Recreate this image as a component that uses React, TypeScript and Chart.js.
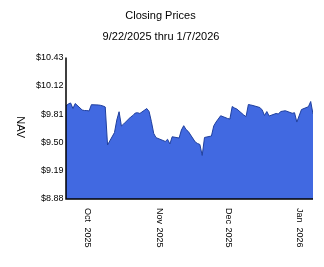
import React, { useEffect, useRef } from "react";
import { Chart, registerables } from "chart.js";

Chart.register(...registerables);

const TITLE = "Closing Prices";
const SUBTITLE = "9/22/2025 thru 1/7/2026";
const Y_TITLE = "NAV";

const START_DATE = "2025-09-22";
const END_DATE = "2026-01-07";

const dates: string[] = [
  "2025-09-22", "2025-09-23", "2025-09-24", "2025-09-25", "2025-09-26", "2025-09-29", "2025-09-30",
  "2025-10-01", "2025-10-02", "2025-10-03", "2025-10-06", "2025-10-07", "2025-10-08", "2025-10-09", "2025-10-10",
  "2025-10-13", "2025-10-14", "2025-10-15", "2025-10-16", "2025-10-17", "2025-10-20", "2025-10-21", "2025-10-22",
  "2025-10-23", "2025-10-24", "2025-10-27", "2025-10-28", "2025-10-29", "2025-10-30", "2025-10-31",
  "2025-11-03", "2025-11-04", "2025-11-05", "2025-11-06", "2025-11-07", "2025-11-10", "2025-11-11", "2025-11-12",
  "2025-11-13", "2025-11-14", "2025-11-17", "2025-11-18", "2025-11-19", "2025-11-20", "2025-11-21", "2025-11-24",
  "2025-11-25", "2025-11-26", "2025-11-28",
  "2025-12-01", "2025-12-02", "2025-12-03", "2025-12-04", "2025-12-05", "2025-12-08", "2025-12-09", "2025-12-10",
  "2025-12-11", "2025-12-12", "2025-12-15", "2025-12-16", "2025-12-17", "2025-12-18", "2025-12-19", "2025-12-22",
  "2025-12-23", "2025-12-24", "2025-12-26", "2025-12-29", "2025-12-30", "2025-12-31",
  "2026-01-02", "2026-01-05", "2026-01-06", "2026-01-07",
];

const nav: number[] = [
  9.899, 9.921, 9.932, 9.871, 9.926, 9.855, 9.849,
  9.849, 9.844, 9.913, 9.910, 9.906, 9.899, 9.888, 9.472,
  9.608, 9.745, 9.836, 9.680, 9.702, 9.778, 9.795, 9.822,
  9.825, 9.817, 9.871, 9.838, 9.727, 9.598, 9.552,
  9.521, 9.510, 9.534, 9.483, 9.562, 9.548, 9.636, 9.683,
  9.641, 9.619, 9.504, 9.488, 9.477, 9.357, 9.554, 9.570,
  9.680, 9.723, 9.792,
  9.762, 9.756, 9.893, 9.877, 9.866, 9.800, 9.782, 9.915,
  9.910, 9.904, 9.882, 9.855, 9.795, 9.838, 9.789, 9.817,
  9.811, 9.838, 9.847, 9.819, 9.825, 9.723,
  9.860, 9.891, 9.948, 9.811,
];

const yTicks: number[] = [8.88, 9.19, 9.5, 9.81, 10.12, 10.43];
const xTickDates: string[] = ["2025-10-01", "2025-11-01", "2025-12-01", "2026-01-01"];
const xTickLabels: string[] = ["Oct 2025", "Nov 2025", "Dec 2025", "Jan 2026"];

const dayOf = (s: string) => {
  const [y, m, d] = s.split("-").map(Number);
  const [y0, m0, d0] = START_DATE.split("-").map(Number);
  return Math.round((Date.UTC(y, m - 1, d) - Date.UTC(y0, m0 - 1, d0)) / 86400000);
};

const FONT = '"Liberation Sans", Arial, sans-serif';

const decorPlugin = {
  id: "decor",
  afterDraw(chart: any) {
    const ctx = chart.ctx as CanvasRenderingContext2D;
    const area = chart.chartArea;
    const xs = chart.scales.x;
    const ys = chart.scales.y;
    ctx.save();
    ctx.fillStyle = "#000";
    // titles
    ctx.font = `11px ${FONT}`;
    ctx.textAlign = "center";
    ctx.textBaseline = "middle";
    ctx.fillText(TITLE, 160.5, 15.5);
    ctx.fillText(SUBTITLE, 161, 36.5);
    // axis lines
    ctx.strokeStyle = "#000";
    ctx.lineWidth = 1.5;
    ctx.beginPath();
    ctx.moveTo(area.left, area.top);
    ctx.lineTo(area.left, area.bottom);
    ctx.lineTo(area.right, area.bottom);
    ctx.stroke();
    // y tick labels
    ctx.font = `9px ${FONT}`;
    ctx.textAlign = "right";
    ctx.textBaseline = "middle";
    for (const t of yTicks) {
      ctx.fillText("$" + t.toFixed(2), area.left - 2.5, ys.getPixelForValue(t));
    }
    // x tick labels (rotated clockwise)
    xTickDates.forEach((d, i) => {
      const px = xs.getPixelForValue(dayOf(d)) + 0.8;
      const parts = xTickLabels[i].split(" ");
      ctx.save();
      ctx.translate(px, area.bottom + 9);
      ctx.rotate(Math.PI / 2);
      ctx.textAlign = "left";
      ctx.textBaseline = "middle";
      ctx.fillText(parts[0], 0, 0);
      ctx.fillText(parts[1], 19.5, 0);
      ctx.restore();
    });
    // y title
    ctx.save();
    ctx.font = `11px ${FONT}`;
    ctx.translate(20, (area.top + area.bottom) / 2 - 1);
    ctx.rotate(Math.PI / 2);
    ctx.textAlign = "center";
    ctx.textBaseline = "middle";
    ctx.fillText(Y_TITLE, 0, 0);
    ctx.restore();
    ctx.restore();
  },
};

export default function App() {
  const ref = useRef<HTMLCanvasElement | null>(null);
  useEffect(() => {
    if (!ref.current) return;
    const chart = new Chart(ref.current, {
      type: "line",
      data: {
        datasets: [
          {
            data: dates.map((d, i) => ({ x: dayOf(d), y: nav[i] })),
            borderColor: "#1f3f9e",
            borderWidth: 1,
            backgroundColor: "#4169E1",
            fill: "start",
            pointRadius: 0,
            tension: 0,
          },
        ],
      },
      options: {
        animation: false,
        responsive: false,
        devicePixelRatio: 1,
        layout: { padding: { left: 66, right: 11, top: 57.5, bottom: 68 } },
        plugins: { legend: { display: false }, tooltip: { enabled: false }, title: { display: false } },
        scales: {
          x: { type: "linear", min: 0, max: dayOf(END_DATE), display: false },
          y: { type: "linear", min: yTicks[0], max: yTicks[yTicks.length - 1], display: false },
        },
      },
      plugins: [decorPlugin],
    });
    return () => chart.destroy();
  }, []);
  return (
    <canvas
      ref={ref}
      width={324}
      height={267}
      style={{ position: "fixed", left: 0, top: 0, width: 324, height: 267, background: "#fff" }}
    />
  );
}
